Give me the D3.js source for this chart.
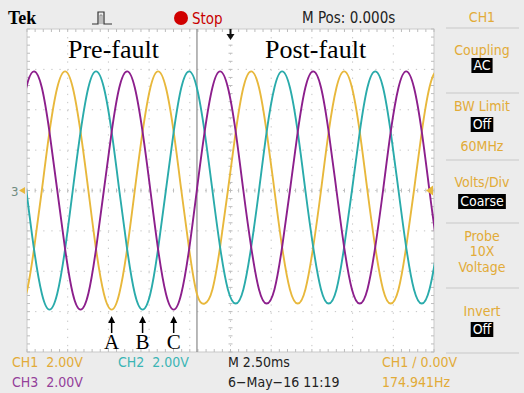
<!DOCTYPE html>
<head>
<meta charset="utf-8">
<script src="https://d3js.org/d3.v7.min.js"></script>
<style>
  body { margin: 0; background: #ececec; }
  svg { display: block; }
  .ui { font-family: "Liberation Sans Narrow", "DejaVu Sans Condensed", "Arial Narrow", sans-serif; }
  .serif { font-family: "Liberation Serif", "DejaVu Serif", serif; }
</style>
</head>
<body>
<svg width="524" height="393"></svg>

<script>
// sample times (ms), screen centre = trigger, 2.5 ms/div
var times = [-13.02,-12.54,-12.07,-11.59,-11.12,-10.64,-10.16,-9.69,-9.21,-8.73,-8.26,-7.78,
  -7.30,-6.83,-6.35,-5.88,-5.40,-4.92,-4.45,-3.97,-3.49,-3.02,-2.54,-2.07,
  -1.59,-1.11,-0.64,-0.16,0.32,0.79,1.27,1.75,2.22,2.70,3.17,3.65,
  4.13,4.60,5.08,5.56,6.03,6.51,6.98,7.46,7.94,8.41,8.89,9.37,
  9.84,10.32,10.79,11.27,11.75,12.22,12.70,13.17];

// volts (2 V/div); troughs a little shallower after the fault
var ch1 = [-5.9,-5.1,-2.9,0,2.9,5.1,5.9,5.1,2.9,0,-2.9,-5.1,
  -5.9,-5.1,-2.9,0,2.9,5.1,5.9,5.1,2.9,0,-2.9,-5.1,
  -5.6,-4.9,-2.8,0,2.9,5.1,5.9,5.1,2.9,0,-2.8,-4.9,
  -5.6,-4.9,-2.8,0,2.9,5.1,5.9,5.1,2.9,0,-2.8,-4.9,
  -5.6,-4.9,-2.8,0,2.9,5.1,5.9,5.1];
var ch2 = [2.9,0,-2.9,-5.1,-5.9,-5.1,-2.9,0,2.9,5.1,5.9,5.1,
  2.9,0,-2.9,-5.1,-5.9,-5.1,-2.9,0,2.9,5.1,5.9,5.1,
  2.9,0,-2.8,-4.9,-5.6,-4.9,-2.8,0,2.9,5.1,5.9,5.1,
  2.9,0,-2.8,-4.9,-5.6,-4.9,-2.8,0,2.9,5.1,5.9,5.1,
  2.9,0,-2.8,-4.9,-5.6,-4.9,-2.8,0];
var ch3 = [2.9,5.1,5.9,5.1,2.9,0,-2.9,-5.1,-5.9,-5.1,-2.9,0,
  2.9,5.1,5.9,5.1,2.9,0,-2.9,-5.1,-5.9,-5.1,-2.9,0,
  2.9,5.1,5.9,5.1,2.9,0,-2.8,-4.9,-5.6,-4.9,-2.8,0,
  2.9,5.1,5.9,5.1,2.9,0,-2.8,-4.9,-5.6,-4.9,-2.8,0,
  2.9,5.1,5.9,5.1,2.9,0,-2.8,-4.9];

var faultTime = -2.06;
var marks = [ { label: "A", t: -7.30 }, { label: "B", t: -5.40 }, { label: "C", t: -3.49 } ];
var xDivs = [-12.5, -10, -7.5, -5, -2.5, 0, 2.5, 5, 7.5, 10, 12.5];
var yDivs = [-8, -6, -4, -2, 0, 2, 4, 6, 8];

var menu = [
  { text: "Coupling", y: 55 }, { text: "AC", y: 70, box: true },
  { text: "BW Limit", y: 111 }, { text: "Off", y: 129, box: true }, { text: "60MHz", y: 151 },
  { text: "Volts/Div", y: 187 }, { text: "Coarse", y: 206, box: true },
  { text: "Probe", y: 241 }, { text: "10X", y: 256 }, { text: "Voltage", y: 272 },
  { text: "Invert", y: 316 }, { text: "Off", y: 334, box: true }
];
var menuLines = [28, 93, 160, 223, 288, 353];

var colors = { ch1: "#e8b83c", ch2: "#2aabab", ch3: "#8c1f8c", txt1: "#e2ab38", txt2: "#3bb5b5", txt3: "#94409a" };

var svg = d3.select("svg");
var x = d3.scaleLinear().domain([-12.5, 12.5]).range([27, 434]);
var y = d3.scaleLinear().domain([-8, 8]).range([352, 29]);

// screen
svg.append("rect").attr("x", x(-12.5)).attr("y", y(8))
  .attr("width", x(12.5) - x(-12.5)).attr("height", y(-8) - y(8))
  .style("fill", "#fff").style("stroke", "#c9c9c9");

// dotted graticule
svg.append("g").selectAll("line").data(xDivs.slice(1, -1)).enter().append("line")
  .attr("x1", d => x(d)).attr("x2", d => x(d)).attr("y1", y(8)).attr("y2", y(-8))
  .style("stroke", "#c4c4c4").style("stroke-dasharray", "1.3,6.8");
svg.append("g").selectAll("line").data(yDivs.slice(1, -1)).enter().append("line")
  .attr("y1", d => y(d)).attr("y2", d => y(d)).attr("x1", x(-12.5)).attr("x2", x(12.5))
  .style("stroke", "#c4c4c4").style("stroke-dasharray", "1.3,6.8");

// minor ticks on borders and centre lines
var xMinor = d3.range(-12.5, 12.51, 0.5), yMinor = d3.range(-8, 8.01, 0.4);
var tk = svg.append("g").style("stroke", "#bdbdbd");
xMinor.forEach(function(t) {
  tk.append("line").attr("x1", x(t)).attr("x2", x(t)).attr("y1", y(8)).attr("y2", y(8) + 3);
  tk.append("line").attr("x1", x(t)).attr("x2", x(t)).attr("y1", y(-8)).attr("y2", y(-8) - 3);
  tk.append("line").attr("x1", x(t)).attr("x2", x(t)).attr("y1", y(0) - 2).attr("y2", y(0) + 2);
});
yMinor.forEach(function(v) {
  tk.append("line").attr("y1", y(v)).attr("y2", y(v)).attr("x1", x(-12.5)).attr("x2", x(-12.5) + 3);
  tk.append("line").attr("y1", y(v)).attr("y2", y(v)).attr("x1", x(12.5)).attr("x2", x(12.5) - 3);
  tk.append("line").attr("y1", y(v)).attr("y2", y(v)).attr("x1", x(0) - 2).attr("x2", x(0) + 2);
});

// fault instant
svg.append("line").attr("x1", x(faultTime)).attr("x2", x(faultTime))
  .attr("y1", y(8)).attr("y2", y(-8)).style("stroke", "#8a8a8a").style("stroke-width", 1.2);

// traces
svg.append("clipPath").attr("id", "scr").append("rect")
  .attr("x", x(-12.5)).attr("y", y(8)).attr("width", x(12.5) - x(-12.5)).attr("height", y(-8) - y(8));
var line = d3.line().x((d, i) => x(times[i])).y(d => y(d)).curve(d3.curveNatural);
[[ch1, colors.ch1], [ch2, colors.ch2], [ch3, colors.ch3]].forEach(function(s) {
  svg.append("path").datum(s[0]).attr("d", line).attr("clip-path", "url(#scr)")
    .style("fill", "none").style("stroke", s[1]).style("stroke-width", 1.9);
});

// region labels
svg.append("text").attr("class", "serif").attr("x", 68).attr("y", 58)
  .style("font-size", "26px").text("Pre-fault");
svg.append("text").attr("class", "serif").attr("x", 265).attr("y", 58)
  .style("font-size", "26px").text("Post-fault");

// phase markers at the troughs
var mk = svg.append("g").selectAll("g").data(marks).enter().append("g");
mk.append("line").attr("x1", d => x(d.t)).attr("x2", d => x(d.t)).attr("y1", 322).attr("y2", 333)
  .style("stroke", "#000").style("stroke-width", 1.5);
mk.append("path").attr("d", d => "M" + x(d.t) + ",316 l-3.5,7 h7 z").style("fill", "#000");
mk.append("text").attr("class", "serif").attr("x", d => x(d.t)).attr("y", 349)
  .attr("text-anchor", "middle").style("font-size", "21px").text(d => d.label);

// trigger position / level, channel ground marker
svg.append("path").attr("d", "M" + x(0) + ",40 l-4,-6 h3 v-5 h2 v5 h3 z").style("fill", "#111");
svg.append("path").attr("d", "M" + (x(12.5) - 8) + "," + y(0) + " l7,-5 v10 z").style("fill", colors.ch1);
svg.append("text").attr("class", "ui").attr("x", 11).attr("y", y(0) + 5)
  .style("font-size", "13px").style("fill", "#6f8a80").text("3");
svg.append("path").attr("d", "M19," + y(0) + " l6,-3.5 v7 z").style("fill", colors.ch1);

// top bar
svg.append("text").attr("class", "serif").attr("x", 8).attr("y", 24)
  .style("font-size", "18px").style("font-weight", "bold").text("Tek");
svg.append("path").attr("d", "M92,24 H98 V12 H104 V24 H112").style("fill", "none")
  .style("stroke", "#333").style("stroke-width", 1.2);
svg.append("path").attr("d", "M100,24 V15 H102 V24").style("fill", "none")
  .style("stroke", "#777").style("stroke-width", 0.8);
svg.append("circle").attr("cx", 181).attr("cy", 18).attr("r", 7).style("fill", "#d00000");
svg.append("text").attr("class", "ui").attr("x", 192).attr("y", 24)
  .style("font-size", "15px").style("fill", "#c80000").text("Stop");
svg.append("text").attr("class", "ui").attr("x", 302).attr("y", 23)
  .style("font-size", "15px").style("fill", "#222").text("M Pos: 0.000s");

// side menu
var side = svg.append("g").attr("class", "ui");
side.append("text").attr("x", 482).attr("y", 22).attr("text-anchor", "middle")
  .style("font-size", "14px").style("fill", colors.txt1).text("CH1");
side.selectAll("line").data(menuLines).enter().append("line")
  .attr("x1", 446).attr("x2", 519).attr("y1", d => d).attr("y2", d => d)
  .style("stroke", "#c8c8c8");
menu.forEach(function(m) {
  var t = side.append("text").attr("x", 482).attr("y", m.y).attr("text-anchor", "middle")
    .style("font-size", "14px").style("fill", m.box ? "#fff" : colors.txt1).text(m.text);
  if (m.box) {
    var w = t.node().getComputedTextLength() + 4;
    side.insert("rect", "text").attr("x", 482 - w / 2).attr("y", m.y - 12)
      .attr("width", w).attr("height", 15).style("fill", "#000");
  }
});
// bring box labels above boxes
side.selectAll("text").raise();

// bottom readouts
var rd = [
  { text: "CH1  2.00V", x: 12, y: 367, c: colors.txt1 },
  { text: "CH2  2.00V", x: 118, y: 367, c: colors.txt2 },
  { text: "M 2.50ms", x: 228, y: 367, c: "#222" },
  { text: "CH1 \u2215 0.00V", x: 382, y: 367, c: colors.txt1 },
  { text: "CH3  2.00V", x: 12, y: 387, c: colors.txt3 },
  { text: "6\u2212May\u221216 11:19", x: 228, y: 387, c: "#222" },
  { text: "174.941Hz", x: 382, y: 387, c: colors.txt1 }
];
svg.append("g").attr("class", "ui").selectAll("text").data(rd).enter().append("text")
  .attr("x", d => d.x).attr("y", d => d.y).style("font-size", "14px")
  .style("fill", d => d.c).style("white-space", "pre").text(d => d.text);
</script>
</body>
</html>
